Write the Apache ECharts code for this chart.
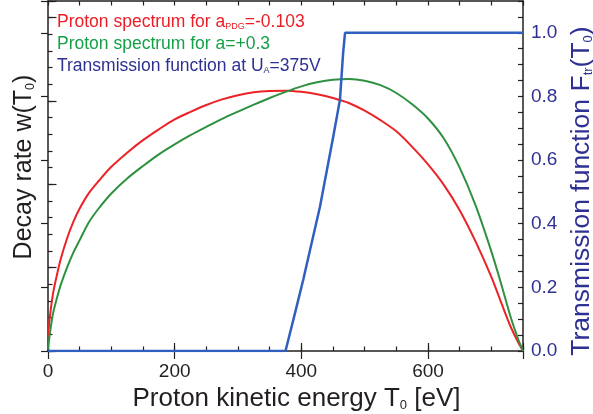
<!DOCTYPE html>
<html>
<head>
<meta charset="utf-8">
<script src="https://cdn.jsdelivr.net/npm/echarts@6/dist/echarts.min.js"></script>
<style>
  html, body { margin: 0; padding: 0; background: #fff; }
  #chart { width: 593px; height: 414px; }
</style>
</head>
<body>
<div id="chart"></div>
<script>
// proton kinetic energy T0 [eV] where the spectra were read
const energy = [0, 3, 8, 14, 20, 30, 40, 50, 65, 80, 100, 125, 150, 175, 200, 225, 250, 275, 300, 325, 350, 375, 400, 425, 450, 475, 500, 525, 550, 575, 600, 625, 650, 675, 700, 715, 730, 742, 750]
// decay rate w(T0), arbitrary units, a_PDG = -0.103
const rateA103 = [0.86, 2.06, 3.46, 4.55, 5.5, 6.75, 7.75, 8.55, 9.5, 10.2, 11.05, 11.9, 12.65, 13.3, 13.9, 14.35, 14.76, 15.1, 15.35, 15.52, 15.6, 15.62, 15.55, 15.4, 15.18, 14.88, 14.42, 13.85, 13.18, 12.25, 11.2, 9.97, 8.45, 6.58, 4.45, 2.96, 1.5, 0.55, 0]
// decay rate w(T0), arbitrary units, a = +0.3
const rateA03 = [0.1, 1.06, 2.26, 3.16, 3.95, 5.0, 5.9, 6.65, 7.75, 8.55, 9.45, 10.35, 11.1, 11.8, 12.4, 12.95, 13.45, 13.93, 14.36, 14.78, 15.18, 15.55, 15.88, 16.12, 16.27, 16.32, 16.22, 15.95, 15.48, 14.8, 13.95, 12.75, 11.0, 8.75, 5.98, 4.1, 2.1, 0.75, 0]
// transmission function at U_A = 375 V
const trEnergy = [0, 375, 390, 403, 429.5, 450.5, 461, 466, 469, 750]
const trValue = [0, 0, 0.119, 0.224, 0.454, 0.675, 0.79, 0.937, 1.0, 1.0]

const seriesNames = [
  'Proton spectrum for a_PDG=-0.103',
  'Proton spectrum for a=+0.3',
  'Transmission function at U_A=375V',
]
const colors = ['#ec2227', '#2f9140', '#2f5fbf']
const legendColors = ['#ed1c24', '#15a048', '#2e3192']
const navy = '#2e3192'
const ink = '#231f20'
const font = 'Liberation Sans'

const zip = (xs, ys) => xs.map((x, i) => [x, ys[i]])
const isStep = (v, step) => Math.abs(v / step - Math.round(v / step)) < 1e-6

const chart = echarts.init(document.getElementById('chart'))

const xBase = {
  type: 'value',
  min: 0,
  max: 750,
  splitLine: { show: false },
  axisLine: { show: true, onZero: false, lineStyle: { color: ink, width: 1.5 } },
}
const tickStyle = { color: ink, width: 1.2 }

const option = {
  backgroundColor: '#fff',
  animation: false,
  textStyle: { fontFamily: font },
  grid: { left: 48, right: 70, top: 1, bottom: 63, outerBoundsMode: 'none', containLabel: false },
  legend: {
    orient: 'vertical',
    left: 47,
    top: 8,
    itemGap: 4,
    itemWidth: 0,
    icon: 'none',
    selectedMode: false,
    textStyle: {
      fontFamily: font,
      fontSize: 17.5,
      rich: {
        sub: { fontSize: 9, verticalAlign: 'bottom', fontFamily: font },
      },
    },
    formatter: (name) => name.replace(/_(\w+)/, '{sub|$1}'),
    data: seriesNames.map((n, i) => ({ name: n, textStyle: { color: legendColors[i] } })),
  },
  xAxis: [
    {
      ...xBase,
      position: 'bottom',
      interval: 50,
      name: 'Proton kinetic energy T{sub|0} [eV]',
      nameLocation: 'middle',
      nameGap: 30,
      nameTextStyle: {
        color: ink,
        fontFamily: font,
        fontSize: 26,
        padding: [0, 0, 0, 22],
        rich: { sub: { fontSize: 13, verticalAlign: 'bottom', fontFamily: font, color: ink } },
      },
      axisTick: { inside: true, length: 4.5, lineStyle: tickStyle },
      axisLabel: {
        color: ink,
        fontSize: 19,
        margin: 11,
        fontFamily: font,
        formatter: (v) => (isStep(v, 200) ? String(v) : ''),
      },
    },
    {
      ...xBase,
      position: 'bottom',
      interval: 200,
      axisLine: { show: false },
      axisTick: { inside: true, length: 8, lineStyle: tickStyle },
      axisLabel: { show: false },
    },
    {
      ...xBase,
      position: 'top',
      interval: 50,
      axisTick: { inside: true, length: 4.5, lineStyle: tickStyle },
      axisLabel: { show: false },
    },
    {
      ...xBase,
      position: 'top',
      interval: 200,
      axisLine: { show: false },
      axisTick: { inside: true, length: 8, lineStyle: tickStyle },
      axisLabel: { show: false },
    },
  ],
  yAxis: [
    {
      type: 'value',
      position: 'left',
      min: 0,
      max: 21,
      interval: 1,
      splitLine: { show: false },
      axisLine: { show: true, onZero: false, lineStyle: { color: ink, width: 1.5 } },
      axisTick: { inside: true, length: 4.5, lineStyle: tickStyle },
      axisLabel: { show: false },
      name: 'Decay rate w(T{sub|0})',
      nameLocation: 'middle',
      nameGap: 11,
      nameTextStyle: {
        color: ink,
        fontFamily: font,
        fontSize: 25,
        padding: [0, 0, 0, 18],
        rich: { sub: { fontSize: 12.5, verticalAlign: 'bottom', fontFamily: font, color: ink } },
      },
    },
    {
      type: 'value',
      position: 'left',
      min: 0,
      max: 21,
      interval: 5,
      splitLine: { show: false },
      axisLine: { show: false },
      axisTick: { inside: true, length: 8.5, lineStyle: tickStyle },
      axisLabel: { show: false },
    },
    {
      type: 'value',
      position: 'right',
      min: 0,
      max: 1.1,
      interval: 0.05,
      splitLine: { show: false },
      axisLine: { show: true, onZero: false, lineStyle: { color: ink, width: 1.5 } },
      axisTick: { inside: true, length: 5, lineStyle: tickStyle },
      axisLabel: {
        color: navy,
        fontSize: 19,
        margin: 8,
        fontFamily: font,
        formatter: (v) => (isStep(v, 0.2) ? v.toFixed(1) : ''),
      },
      name: 'Transmission function F{sub|tr}(T{sub|0})',
      nameLocation: 'middle',
      nameGap: 45,
      nameTextStyle: {
        color: navy,
        fontFamily: font,
        fontSize: 26.5,
        padding: [0, 30, 0, 0],
        rich: { sub: { fontSize: 13, verticalAlign: 'bottom', fontFamily: font, color: navy } },
      },
    },
    {
      type: 'value',
      position: 'right',
      min: 0,
      max: 1.1,
      interval: 0.2,
      splitLine: { show: false },
      axisLine: { show: false },
      axisTick: { inside: true, length: 7, lineStyle: tickStyle },
      axisLabel: { show: false },
    },
  ],
  series: [
    {
      name: seriesNames[0],
      type: 'line',
      xAxisIndex: 0,
      yAxisIndex: 0,
      smooth: 0.3,
      showSymbol: false,
      lineStyle: { color: colors[0], width: 2 },
      itemStyle: { color: colors[0] },
      data: zip(energy, rateA103),
    },
    {
      name: seriesNames[1],
      type: 'line',
      xAxisIndex: 0,
      yAxisIndex: 0,
      smooth: 0.3,
      showSymbol: false,
      lineStyle: { color: colors[1], width: 2 },
      itemStyle: { color: colors[1] },
      data: zip(energy, rateA03),
    },
    {
      name: seriesNames[2],
      type: 'line',
      xAxisIndex: 0,
      yAxisIndex: 2,
      showSymbol: false,
      lineStyle: { color: colors[2], width: 2.5 },
      itemStyle: { color: colors[2] },
      data: zip(trEnergy, trValue),
    },
  ],
}

chart.setOption(option)
</script>
</body>
</html>
